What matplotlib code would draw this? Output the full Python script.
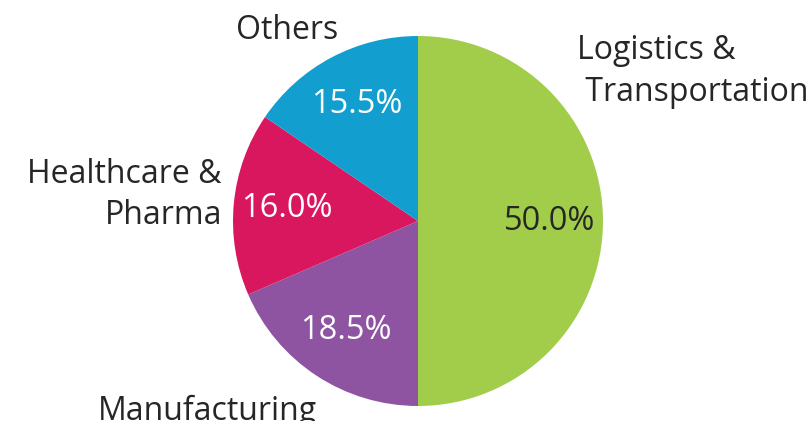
import numpy as np
import matplotlib.pyplot as plt

plt.rcParams['font.family'] = ['Open Sans', 'DejaVu Sans']

sectors = ['Logistics &\nTransportation', 'Manufacturing', 'Healthcare &\nPharma', 'Others']
shares = [50.0, 18.5, 16.0, 15.5]
colors = ['#a2cd4a', '#8e54a2', '#d8175f', '#129fd0']
pct_colors = ['#262626', 'white', 'white', 'white']

fig = plt.figure(figsize=(8.10, 4.21), dpi=100)
cx, cy, r = 418, 221, 185
ax = fig.add_axes([(cx - r) / 810, (421 - cy - r) / 421, 2 * r / 810, 2 * r / 421])

wedges, texts, autotexts = ax.pie(shares, colors=colors, startangle=90, counterclock=False,
                                  autopct='%1.1f%%', pctdistance=0.71, radius=1,
                                  wedgeprops=dict(linewidth=0))
for t, c in zip(autotexts, pct_colors):
    t.set_color(c)
    t.set_fontsize(23.5)

ax.set_xlim(-1, 1)
ax.set_ylim(-1, 1)
ax.set_aspect('auto')
ax.axis('off')

# outside labels
lab = dict(fontsize=23, color='#262626', linespacing=1.35)
ax.text(0.86, 0.81, sectors[0].replace('\n', '\n '), ha='left', va='center', **lab)
ax.text(-1.14, -1.03, sectors[1], ha='center', va='center', clip_on=False, **lab)
ax.text(-1.06, 0.14, sectors[2], ha='right', va='center', multialignment='right', **lab)
ax.text(-0.71, 1.03, sectors[3], ha='center', va='center', **lab)

fig.savefig('out.png', dpi=100)
